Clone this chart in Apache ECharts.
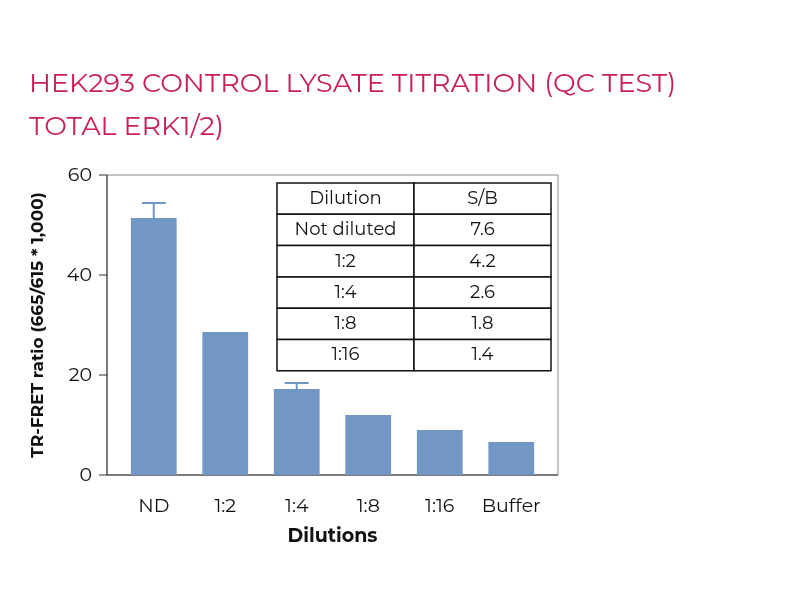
<!DOCTYPE html>
<html><head><meta charset="utf-8">
<script src="https://cdn.jsdelivr.net/npm/echarts@6/dist/echarts.min.js"></script>
<style>body{margin:0}#c{width:800px;height:600px}</style></head>
<body><div id="c"></div>
<script>
var categories = ['ND', '1:2', '1:4', '1:8', '1:16', 'Buffer'];
var values = [51.4, 28.6, 17.2, 12.0, 9.0, 6.6];
var errors = [3.0, 0, 1.2, 0, 0, 0];
var tableHead = ['Dilution', 'S/B'];
var tableDilutions = ['Not diluted', '1:2', '1:4', '1:8', '1:16'];
var tableSB = ['7.6', '4.2', '2.6', '1.8', '1.4'];

var chart = echarts.init(document.getElementById('c'));
var font = 'Montserrat, Lato, sans-serif';

// table drawn as graphic
var tx = 277, ty = 183, cw1 = 137, cw2 = 137, rh = 31.3;
var rows = [tableHead].concat(tableDilutions.map(function (d, i) { return [d, tableSB[i]]; }));
var graphics = [];
rows.forEach(function (r, i) {
  [0, 1].forEach(function (j) {
    var x = tx + (j ? cw1 : 0), w = j ? cw2 : cw1;
    graphics.push({ type: 'rect', shape: { x: x, y: ty + i * rh, width: w, height: rh },
      style: { fill: '#fff', stroke: '#111', lineWidth: 1.5 } });
    graphics.push({ type: 'text', x: x + w / 2, y: ty + i * rh + rh / 2,
      style: { text: r[j], fill: '#111', font: '18px ' + font, textAlign: 'center', textVerticalAlign: 'middle' } });
  });
});

chart.setOption({
  title: {
    text: 'HEK293 CONTROL LYSATE TITRATION (QC TEST)\nTOTAL ERK1/2)',
    left: 24, top: 58,
    textStyle: { color: '#c8205a', fontSize: 27, fontWeight: 'normal', fontFamily: font, lineHeight: 43 }
  },
  grid: { left: 118, top: 175, width: 429, height: 300 },
  xAxis: {
    type: 'category', data: categories,
    name: 'Dilutions', nameLocation: 'middle', nameGap: 52,
    nameTextStyle: { fontSize: 19, fontWeight: 'bold', color: '#111', fontFamily: font },
    axisLine: { show: false },
    axisTick: { alignWithLabel: true, length: 8, lineStyle: { color: '#333' } },
    axisLabel: { fontSize: 19, color: '#111', margin: 22, fontFamily: font, interval: 0 }
  },
  yAxis: {
    type: 'value', min: 0, max: 60, interval: 20,
    name: 'TR-FRET ratio (665/615 * 1,000)', nameLocation: 'middle', nameGap: 72,
    nameTextStyle: { fontSize: 17, fontWeight: 'bold', color: '#111', fontFamily: font },
    axisLine: { show: false },
    axisTick: { show: false },
    axisLabel: { fontSize: 19, color: '#111', margin: 26, fontFamily: font },
    splitLine: { show: false }
  },
  graphic: [
    { type: 'rect', shape: { x: 107, y: 175, width: 451, height: 300 },
      style: { fill: 'none', stroke: '#888', lineWidth: 1 }, z: 0 },
    { type: 'line', shape: { x1: 107, y1: 475, x2: 558, y2: 475 }, style: { stroke: '#333', lineWidth: 1 } },
    { type: 'line', shape: { x1: 107, y1: 175, x2: 107, y2: 475 }, style: { stroke: '#333', lineWidth: 1 } },
    { type: 'line', shape: { x1: 99, y1: 175, x2: 107, y2: 175 }, style: { stroke: '#333', lineWidth: 1 } },
    { type: 'line', shape: { x1: 99, y1: 275, x2: 107, y2: 275 }, style: { stroke: '#333', lineWidth: 1 } },
    { type: 'line', shape: { x1: 99, y1: 375, x2: 107, y2: 375 }, style: { stroke: '#333', lineWidth: 1 } },
    { type: 'line', shape: { x1: 99, y1: 475, x2: 107, y2: 475 }, style: { stroke: '#333', lineWidth: 1 } }
  ].concat(graphics),
  series: [{
    type: 'bar', data: values, barWidth: '64%',
    itemStyle: { color: '#7397c5' }
  }, {
    type: 'custom', data: values.map(function (v, i) { return [i, v, errors[i]]; }),
    renderItem: function (params, api) {
      if (!api.value(2)) return;
      var base = api.coord([api.value(0), api.value(1)]);
      var top = api.coord([api.value(0), api.value(1) + api.value(2)]);
      var s = { stroke: '#7397c5', lineWidth: 2 };
      return { type: 'group', children: [
        { type: 'line', shape: { x1: base[0], y1: base[1], x2: top[0], y2: top[1] }, style: s },
        { type: 'line', shape: { x1: top[0] - 12, y1: top[1], x2: top[0] + 12, y2: top[1] }, style: s }
      ] };
    }, z: 3
  }]
});
</script></body></html>
